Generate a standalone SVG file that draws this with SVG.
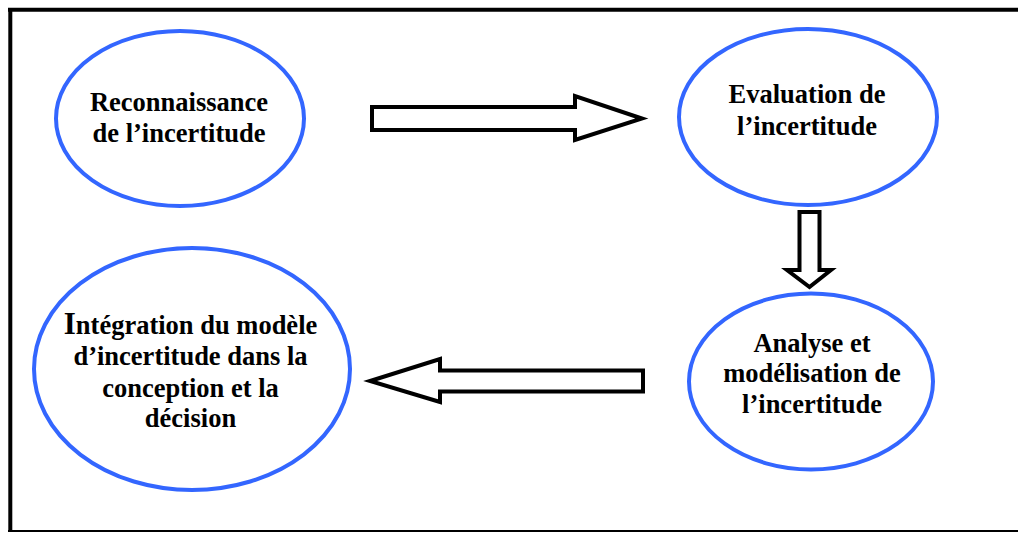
<svg xmlns="http://www.w3.org/2000/svg" width="1018" height="533" viewBox="0 0 1018 533">
<style>
.node ellipse{fill:#fff;stroke:#3366ff;stroke-width:4}
.node text{font-family:"Liberation Serif","Times New Roman",serif;font-weight:bold;font-size:26.5px;fill:#000;text-anchor:middle}
.arrow{fill:#fff;stroke:#000;stroke-width:4;stroke-linejoin:miter;stroke-miterlimit:10}
.frame{stroke:#000;fill:none}
</style>
<rect x="0" y="0" width="1018" height="533" fill="#fff"/>
<g id="frame">
<line class="frame" x1="8" y1="9.8" x2="1018" y2="9.8" stroke-width="4"/>
<line class="frame" x1="10.3" y1="8" x2="10.3" y2="532" stroke-width="4"/>
<line class="frame" x1="8" y1="531" x2="1018" y2="531" stroke-width="2"/>
</g>
<g id="connectors">
<polygon class="arrow" points="372,107 575,107 575,96 642,118.5 575,140 575,130 372,130"/>
<polygon class="arrow" points="799.5,212 819.5,212 819.5,270 831,270 809.5,287 787,270 799.5,270"/>
<polygon class="arrow" points="643,370.5 440,370.5 440,359 370,381 440,402 440,391.5 643,391.5"/>
</g>
<g id="n1" class="node">
<ellipse cx="180" cy="118.5" rx="124" ry="87.5"/>
<text x="179" y="111">Reconnaissance</text>
<text x="179" y="142">de l’incertitude</text>
</g>
<g id="n2" class="node">
<ellipse cx="808" cy="117" rx="129" ry="88"/>
<text x="807" y="103">Evaluation de</text>
<text x="807" y="135">l’incertitude</text>
</g>
<g id="n3" class="node">
<ellipse cx="811" cy="381.5" rx="122" ry="88"/>
<text x="812" y="352">Analyse et</text>
<text x="812" y="382">modélisation de</text>
<text x="812" y="413">l’incertitude</text>
</g>
<g id="n4" class="node">
<ellipse cx="192" cy="369" rx="158" ry="121"/>
<text x="190.5" y="334"><tspan font-size="31">I</tspan>ntégration du modèle</text>
<text x="190.5" y="365">d’incertitude dans la</text>
<text x="190.5" y="397">conception et la</text>
<text x="190.5" y="427">décision</text>
</g>
</svg>
